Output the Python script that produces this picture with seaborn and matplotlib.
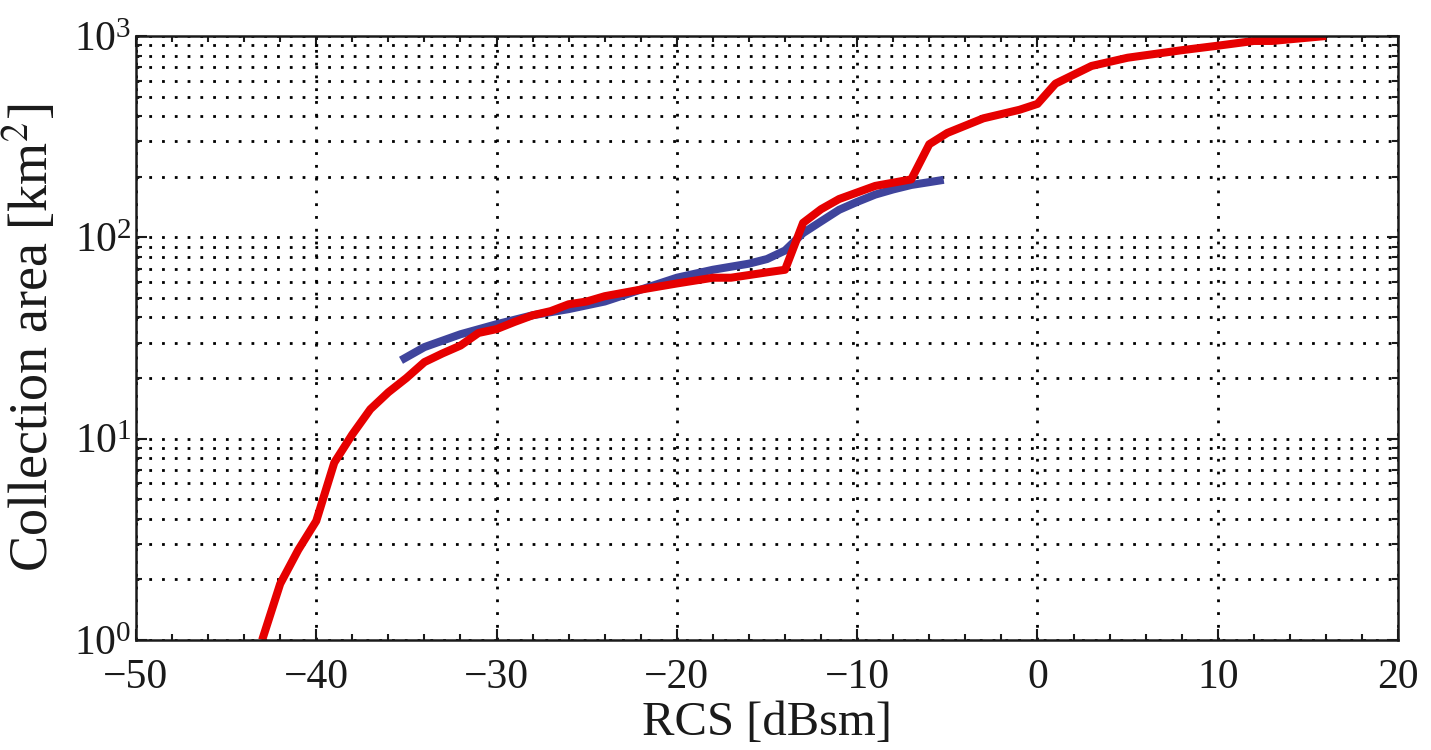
import numpy as np
import pandas as pd
import matplotlib
matplotlib.use("Agg")
import matplotlib.pyplot as plt
import seaborn as sns
from matplotlib.ticker import MultipleLocator, LogLocator, NullFormatter

# ---- data ----
red_x = [-43, -42, -41, -40, -39, -38, -37, -36, -35, -34, -33, -32, -31, -30,
         -29, -28, -27, -26, -25, -24, -22, -20, -18, -17, -15, -14, -13, -12,
         -11, -9, -7, -6, -5, -3, -1, 0, 1, 3, 5, 8, 10, 12, 13, 16]
red_y = [1.0, 1.9, 2.8, 3.9, 7.6, 10.5, 14, 17, 20, 24, 26.5, 29, 33.5, 35,
         38, 41, 43, 46.5, 48, 51, 55, 59, 63, 63, 67, 69, 118, 138,
         155, 180, 194, 290, 330, 390, 430, 460, 580, 710, 780, 850, 895, 945, 945, 1000]

blue_x = [-35.3, -34, -32, -30, -28, -26, -24, -22, -20, -18, -16, -15, -14,
          -13, -12, -11, -10, -9, -8, -7, -6, -5.2]
blue_y = [24.5, 28.5, 33, 37, 41, 44, 48, 55, 63, 69, 74, 78, 86,
          105, 120, 137, 150, 163, 173, 182, 188, 193]

x_label = "RCS [dBsm]"
y_label = "Collection area [km$^2$]"

sns.set_theme(style="ticks")
plt.rcParams["font.family"] = ["Liberation Serif", "DejaVu Serif"]
plt.rcParams["mathtext.fontset"] = "stix"
plt.rcParams["axes.unicode_minus"] = True

fig = plt.figure(figsize=(14.31, 7.5), dpi=100)
ax = fig.add_axes([0.095, 0.1467, 0.882, 0.8053])

df_red = pd.DataFrame({"x": red_x, "y": red_y})
df_blue = pd.DataFrame({"x": blue_x, "y": blue_y})

sns.lineplot(data=df_blue, x="x", y="y", ax=ax, color="#3f449c", linewidth=5.8,
             sort=False, estimator=None, solid_capstyle="butt")
sns.lineplot(data=df_red, x="x", y="y", ax=ax, color="#e60000", linewidth=5.8,
             sort=False, estimator=None, solid_capstyle="butt")

ax.set_yscale("log")
ax.set_xlim(-50, 20)
ax.set_ylim(1, 1000)

ax.xaxis.set_major_locator(MultipleLocator(10))
ax.xaxis.set_minor_locator(MultipleLocator(2))
ax.yaxis.set_major_locator(LogLocator(base=10))
ax.yaxis.set_minor_locator(LogLocator(base=10, subs=np.arange(2, 10)))
ax.yaxis.set_minor_formatter(NullFormatter())

grid_style = dict(color="black", linestyle=(0, (1, 3.6)), linewidth=2.0)
ax.xaxis.grid(True, which="major", **grid_style)
ax.yaxis.grid(True, which="major", **grid_style)
ax.yaxis.grid(True, which="minor", **grid_style)
ax.set_axisbelow(True)

for s in ax.spines.values():
    s.set_linewidth(1.8)
    s.set_color("#1a1a1a")
    s.set_visible(True)

ax.tick_params(which="both", direction="in", top=True, right=True,
               colors="#1a1a1a", width=1.5)
ax.tick_params(which="major", length=8, labelsize=30, pad=13)
ax.tick_params(axis="y", which="major", pad=3)
ax.tick_params(which="minor", length=4.5)
for lbl in ax.get_yticklabels():
    lbl.set_verticalalignment("center_baseline")

ax.set_xlabel(x_label, fontsize=35, labelpad=3, color="#1a1a1a")
ax.set_ylabel(y_label, fontsize=39, labelpad=10, color="#1a1a1a")

fig.savefig("out.png", dpi=100)
